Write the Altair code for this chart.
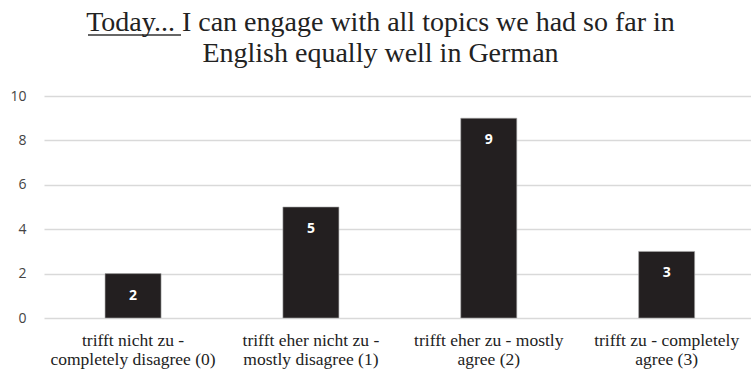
import altair as alt
import pandas as pd

categories = [
    "trifft nicht zu  -\ncompletely disagree (0)",
    "trifft eher nicht zu -\nmostly disagree (1)",
    "trifft eher zu - mostly\nagree (2)",
    "trifft zu - completely\nagree (3)",
]
counts = [2, 5, 9, 3]
y_ticks = [0, 2, 4, 6, 8, 10]
title_lines = [
    "Today... I can engage with all topics we had so far in",
    "English equally well in German",
]

SERIF = "'Times New Roman', 'Liberation Serif', serif"

df = pd.DataFrame({"cat": categories, "n": counts})

x = alt.X(
    "cat:N",
    sort=categories,
    title=None,
    scale=alt.Scale(paddingInner=0.685, paddingOuter=0.33, align=0.52),
    axis=alt.Axis(
        labelExpr="split(datum.label, '\\n')",
        labelAngle=0,
        labelFont=SERIF,
        labelFontSize=17.5,
        labelColor="#222222",
        labelPadding=13,
        labelLineHeight=19,
        ticks=False,
        domain=False,
    ),
)

bars = alt.Chart(df).mark_bar(color="#231f20", stroke="#aaaaaa", strokeWidth=0.6).encode(
    x=x,
    y=alt.Y(
        "n:Q",
        title=None,
        scale=alt.Scale(domain=[0, 10]),
        axis=alt.Axis(
            values=y_ticks,
            labelFont="Open Sans",
            labelFontSize=14,
            labelColor="#444444",
            labelPadding=18,
            ticks=False,
            domain=False,
            gridColor="#d9d9d9",
            gridWidth=1.5,
        ),
    ),
)

labels = alt.Chart(df).mark_text(
    color="white", font="Open Sans", fontWeight="bold", fontSize=14, baseline="middle", dy=22
).encode(x=x, y="n:Q", text="n:Q")

# underline under "Today... " in the title (decoration)
underline = alt.Chart(df.head(1)).mark_rule(color="#333333", strokeWidth=1.5).encode(
    x=alt.value(44), x2=alt.value(137), y=alt.value(-61)
)

chart = (
    (bars + labels + underline)
    .properties(
        width=707,
        height=222,
        autosize=alt.AutoSizeParams(type="none"),
        padding={"left": 44, "top": 96, "right": 0, "bottom": 53},
        title=alt.TitleParams(
            text=title_lines,
            font=SERIF,
            fontSize=28,
            fontWeight="normal",
            color="#222222",
            lineHeight=31,
            offset=-34,
            dx=-17,
            anchor="middle",
        ),
    )
    .configure_view(stroke=None)
)

chart.save("out.html", embed_options={"renderer": "svg", "actions": False})
